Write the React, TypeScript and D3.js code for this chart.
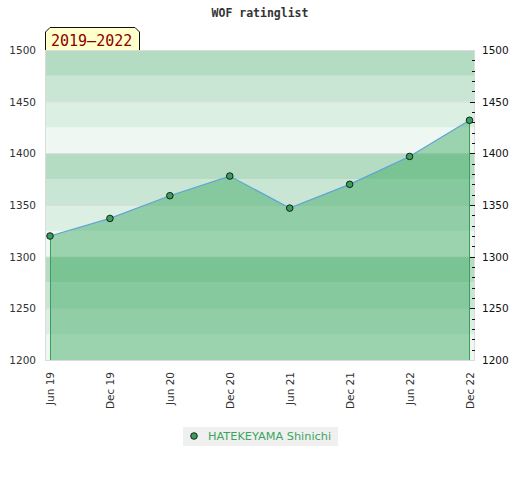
import * as d3 from "d3";
import { useEffect } from "react";

const months = ["Jun 19", "Dec 19", "Jun 20", "Dec 20", "Jun 21", "Dec 21", "Jun 22", "Dec 22"];
const ratings = [1320, 1337, 1359, 1378, 1347, 1370, 1397, 1432];
const yTicks = [1200, 1250, 1300, 1350, 1400, 1450, 1500];
const bandColors = ["#b3dcc2", "#c9e6d4", "#dcefe3", "#eef7f1"];
const playerName = "HATEKEYAMA Shinichi";
const periodLabel = "2019\u20132022";
const title = "WOF ratinglist";

const width = 520;
const height = 480;
const plot = { left: 45, right: 475, top: 50, bottom: 360 };

export default function App() {
  useEffect(() => {
    document.body.style.margin = "0";
  }, []);

  const x = d3.scalePoint<string>().domain(months).range([50, 469.5]);
  const y = d3.scaleLinear().domain([1200, 1500]).range([plot.bottom, plot.top]);

  const bands = d3.range(1200, 1500, 25);
  const minor = d3.range(1210, 1500, 10);

  const pts: [number, number][] = months.map((m, i) => [x(m)!, y(ratings[i])]);
  const area = d3.area<[number, number]>()
    .x(d => d[0])
    .y0(plot.bottom)
    .y1(d => d[1])(pts);
  const line = d3.line()(pts);

  const first = pts[0];
  const last = pts[pts.length - 1];
  const font = "DejaVu Sans, sans-serif";
  const mono = "DejaVu Sans Mono, monospace";

  return (
    <svg width={width} height={height} style={{ position: "absolute", left: 0, top: 0, background: "#fff" }}>
      <text x={260} y={17} textAnchor="middle" fontFamily={mono} fontWeight="bold" fontSize={11.5} fill="#333">
        {title}
      </text>

      {/* background bands */}
      {bands.map(b => {
        const idx = Math.round((1500 - (b + 25)) / 25) % 4;
        return (
          <rect key={b} x={plot.left} width={plot.right - plot.left}
            y={y(b + 25)} height={y(b) - y(b + 25)} fill={bandColors[idx]} />
        );
      })}
      {yTicks.map(t => (
        <line key={t} x1={plot.left} x2={plot.right} y1={y(t) + 0.5} y2={y(t) + 0.5}
          stroke="#d8d8d8" strokeOpacity={0.8} />
      ))}

      <path d={area!} fill="#36a75e" fillOpacity={0.45} />
      <line x1={Math.round(first[0]) + 0.5} x2={Math.round(first[0]) + 0.5} y1={first[1]} y2={plot.bottom}
        stroke="#3a9e5c" />
      <line x1={Math.round(last[0]) - 0.5} x2={Math.round(last[0]) - 0.5} y1={last[1]} y2={plot.bottom}
        stroke="#3a9e5c" />
      <path d={line!} fill="none" stroke="#5fa3d9" strokeWidth={1.2} />

      {/* frame */}
      <rect x={plot.left + 0.5} y={plot.top + 0.5} width={plot.right - plot.left - 1}
        height={plot.bottom - plot.top} fill="none" stroke="#dcdcdc" />

      {pts.map((p, i) => (
        <circle key={i} cx={p[0]} cy={p[1]} r={3.3} fill="#3a9e5c" stroke="#111" strokeWidth={0.9} />
      ))}

      {/* right ticks */}
      {minor.map(t => (
        <line key={t} x1={t % 50 === 0 ? 470 : 472} x2={475} y1={Math.round(y(t)) + 0.5} y2={Math.round(y(t)) + 0.5}
          stroke="#111" />
      ))}

      {yTicks.map(t => (
        <g key={t}>
          <text x={36} y={y(t) + 4} textAnchor="end" fontFamily={font} fontSize={10.5} fill="#333">{t}</text>
          <text x={482} y={y(t) + 4} textAnchor="start" fontFamily={font} fontSize={10.5} fill="#111">{t}</text>
        </g>
      ))}

      {months.map(m => (
        <text key={m} transform={`translate(${x(m)! + 4},372) rotate(-90)`} textAnchor="end"
          fontFamily={font} fontSize={10.5} fill="#333">{m}</text>
      ))}

      {/* period label */}
      <path d="M45.5,50 L45.5,32 L50,27.5 L135,27.5 L139.5,32 L139.5,50" fill="#ffffcc" stroke="#111" />
      <text x={51} y={46} fontFamily={mono} fontSize={15} fill="#8b0000">{periodLabel}</text>

      {/* legend */}
      <rect x={183} y={427} width={155} height={19} fill="#f0f0f0" />
      <circle cx={194} cy={436} r={3.3} fill="#3a9e5c" stroke="#111" strokeWidth={0.9} />
      <text x={208} y={440} fontFamily={font} fontSize={11.3} fill="#3aa55f">{playerName}</text>
    </svg>
  );
}
